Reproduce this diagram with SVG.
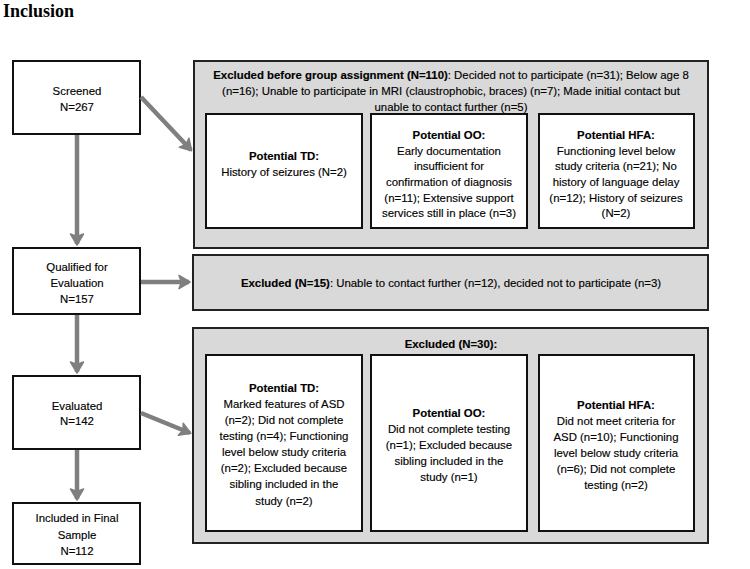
<svg xmlns="http://www.w3.org/2000/svg" width="750" height="569" viewBox="0 0 750 569">
<style>
.t{font-family:"Liberation Sans",Arial,sans-serif;font-size:11.4px;fill:#000;text-anchor:middle;stroke:#000;stroke-width:0.15}
.b{font-weight:bold}
.title{font-family:"Liberation Serif","Times New Roman",serif;font-size:18px;font-weight:bold;fill:#000}
.node{fill:#fff;stroke:#111;stroke-width:2}
.grp{fill:#d9d9d9;stroke:#222;stroke-width:2}
.conn{stroke:#7f7f7f;stroke-width:4.5;fill:none}
</style>
<defs>
<marker id="ah" markerUnits="userSpaceOnUse" markerWidth="16" markerHeight="16" viewBox="0 0 16 16" refX="14" refY="8" orient="auto">
<path d="M4,1.5 L15,8 L4,14.5 L6.5,8 Z" fill="#7f7f7f" stroke="#7f7f7f" stroke-width="1.5" stroke-linejoin="round"/>
</marker>
</defs>
<rect width="750" height="569" fill="#fff"/>
<text class="title" x="3" y="17">Inclusion</text>

<g id="screened"><rect class="node" x="13" y="61" width="127" height="73"/>
<text class="t" x="77" y="95">Screened</text><text class="t" x="77" y="111">N=267</text></g>

<g id="qualified"><rect class="node" x="13" y="248" width="127" height="66"/>
<text class="t" x="77" y="271">Qualified for</text><text class="t" x="77" y="287">Evaluation</text><text class="t" x="77" y="303">N=157</text></g>

<g id="evaluated"><rect class="node" x="13" y="376" width="127" height="73"/>
<text class="t" x="77" y="410">Evaluated</text><text class="t" x="77" y="425">N=142</text></g>

<g id="included"><rect class="node" x="13" y="503" width="127" height="61"/>
<text class="t" x="77" y="522">Included in Final</text><text class="t" x="77" y="539">Sample</text><text class="t" x="77" y="555">N=112</text></g>

<g id="excluded1"><rect class="grp" x="194" y="61" width="514" height="187"/>
<text class="t" x="451" y="79"><tspan class="b">Excluded before group assignment (N=110)</tspan>: Decided not to participate (n=31); Below age 8</text>
<text class="t" x="451" y="95">(n=16); Unable to participate in MRI (claustrophobic, braces) (n=7); Made initial contact but</text>
<text class="t" x="451" y="111">unable to contact further (n=5)</text>
</g>
<g id="ex1-td"><rect class="node" x="206" y="114" width="156" height="114"/>
<text class="t b" x="284" y="160">Potential TD:</text><text class="t" x="284" y="176">History of seizures (N=2)</text></g>
<g id="ex1-oo"><rect class="node" x="371" y="114" width="156" height="114"/>
<text class="t b" x="449" y="139">Potential OO:</text>
<text class="t" x="449" y="154.5">Early documentation</text>
<text class="t" x="449" y="170">insufficient for</text>
<text class="t" x="449" y="185.5">confirmation of diagnosis</text>
<text class="t" x="449" y="201.5">(n=11); Extensive support</text>
<text class="t" x="449" y="217">services still in place (n=3)</text></g>
<g id="ex1-hfa"><rect class="node" x="539" y="114" width="155" height="114"/>
<text class="t b" x="616" y="139">Potential HFA:</text>
<text class="t" x="616" y="154.5">Functioning level below</text>
<text class="t" x="616" y="170">study criteria (n=21); No</text>
<text class="t" x="616" y="185.5">history of language delay</text>
<text class="t" x="616" y="201.5">(n=12); History of seizures</text>
<text class="t" x="616" y="217">(N=2)</text></g>

<g id="excluded2"><rect class="grp" x="193" y="255" width="515" height="55"/>
<text class="t" x="451" y="287"><tspan class="b">Excluded (N=15)</tspan>: Unable to contact further (n=12), decided not to participate (n=3)</text></g>

<g id="excluded3"><rect class="grp" x="193" y="328" width="515" height="215"/>
<text class="t b" x="451" y="348">Excluded (N=30):</text></g>
<g id="ex3-td"><rect class="node" x="206" y="355" width="156" height="176"/>
<text class="t b" x="284" y="392">Potential TD:</text>
<text class="t" x="284" y="408">Marked features of ASD</text>
<text class="t" x="284" y="424">(n=2); Did not complete</text>
<text class="t" x="284" y="440">testing (n=4); Functioning</text>
<text class="t" x="284" y="456">level below study criteria</text>
<text class="t" x="284" y="472">(n=2); Excluded because</text>
<text class="t" x="284" y="488">sibling included in the</text>
<text class="t" x="284" y="505">study (n=2)</text></g>
<g id="ex3-oo"><rect class="node" x="371" y="355" width="156" height="176"/>
<text class="t b" x="449" y="417">Potential OO:</text>
<text class="t" x="449" y="433">Did not complete testing</text>
<text class="t" x="449" y="449">(n=1); Excluded because</text>
<text class="t" x="449" y="465">sibling included in the</text>
<text class="t" x="449" y="481">study (n=1)</text></g>
<g id="ex3-hfa"><rect class="node" x="539" y="355" width="155" height="176"/>
<text class="t b" x="616" y="409">Potential HFA:</text>
<text class="t" x="616" y="425">Did not meet criteria for</text>
<text class="t" x="616" y="441">ASD (n=10); Functioning</text>
<text class="t" x="616" y="457">level below study criteria</text>
<text class="t" x="616" y="473">(n=6); Did not complete</text>
<text class="t" x="616" y="489">testing (n=2)</text></g>

<g id="connectors">
<line class="conn" x1="141" y1="97" x2="191" y2="150" marker-end="url(#ah)"/>
<line class="conn" x1="77" y1="135" x2="77" y2="244" marker-end="url(#ah)"/>
<line class="conn" x1="141" y1="282" x2="189" y2="282" marker-end="url(#ah)"/>
<line class="conn" x1="77" y1="315" x2="77" y2="372" marker-end="url(#ah)"/>
<line class="conn" x1="141" y1="413" x2="190" y2="433" marker-end="url(#ah)"/>
<line class="conn" x1="77" y1="450" x2="77" y2="499" marker-end="url(#ah)"/>
</g>
</svg>
